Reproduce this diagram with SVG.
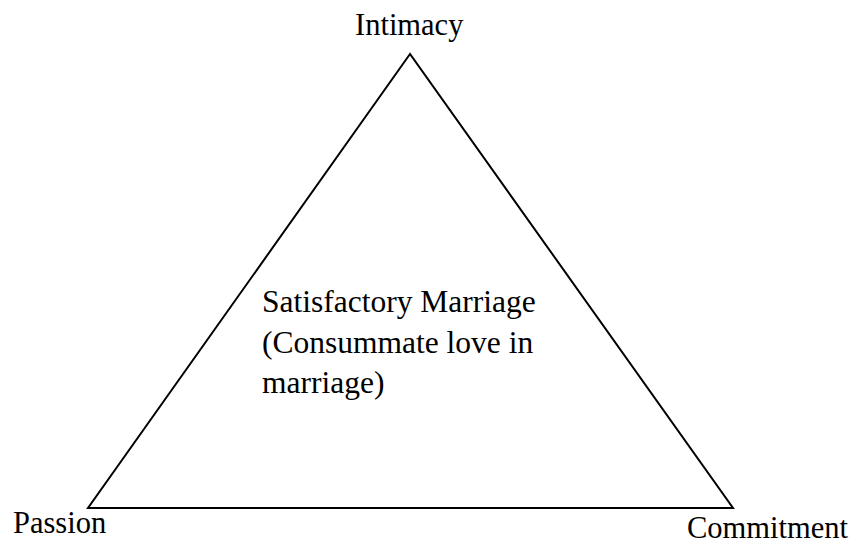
<svg xmlns="http://www.w3.org/2000/svg" width="858" height="542" viewBox="0 0 858 542">
<style>
.lbl{font-family:"Liberation Serif","Times New Roman",serif;font-size:30.5px;fill:#000}
.ctr{font-family:"Liberation Serif","Times New Roman",serif;font-size:31.5px;fill:#000}
.edge{fill:none;stroke:#000;stroke-width:2;stroke-linejoin:miter}
</style>
<rect width="858" height="542" fill="#fff"/>
<g id="connectors">
<polygon class="edge" points="410,54 88,508 733,508"/>
</g>
<g id="intimacy"><text class="lbl" x="355" y="35">Intimacy</text></g>
<g id="passion"><text class="lbl" x="13" y="533">Passion</text></g>
<g id="commitment"><text class="lbl" x="687" y="538">Commitment</text></g>
<g id="center">
<text class="ctr" x="262" y="312">Satisfactory Marriage</text>
<text class="ctr" x="262" y="353">(Consummate love in</text>
<text class="ctr" x="262" y="393">marriage)</text>
</g>
</svg>
